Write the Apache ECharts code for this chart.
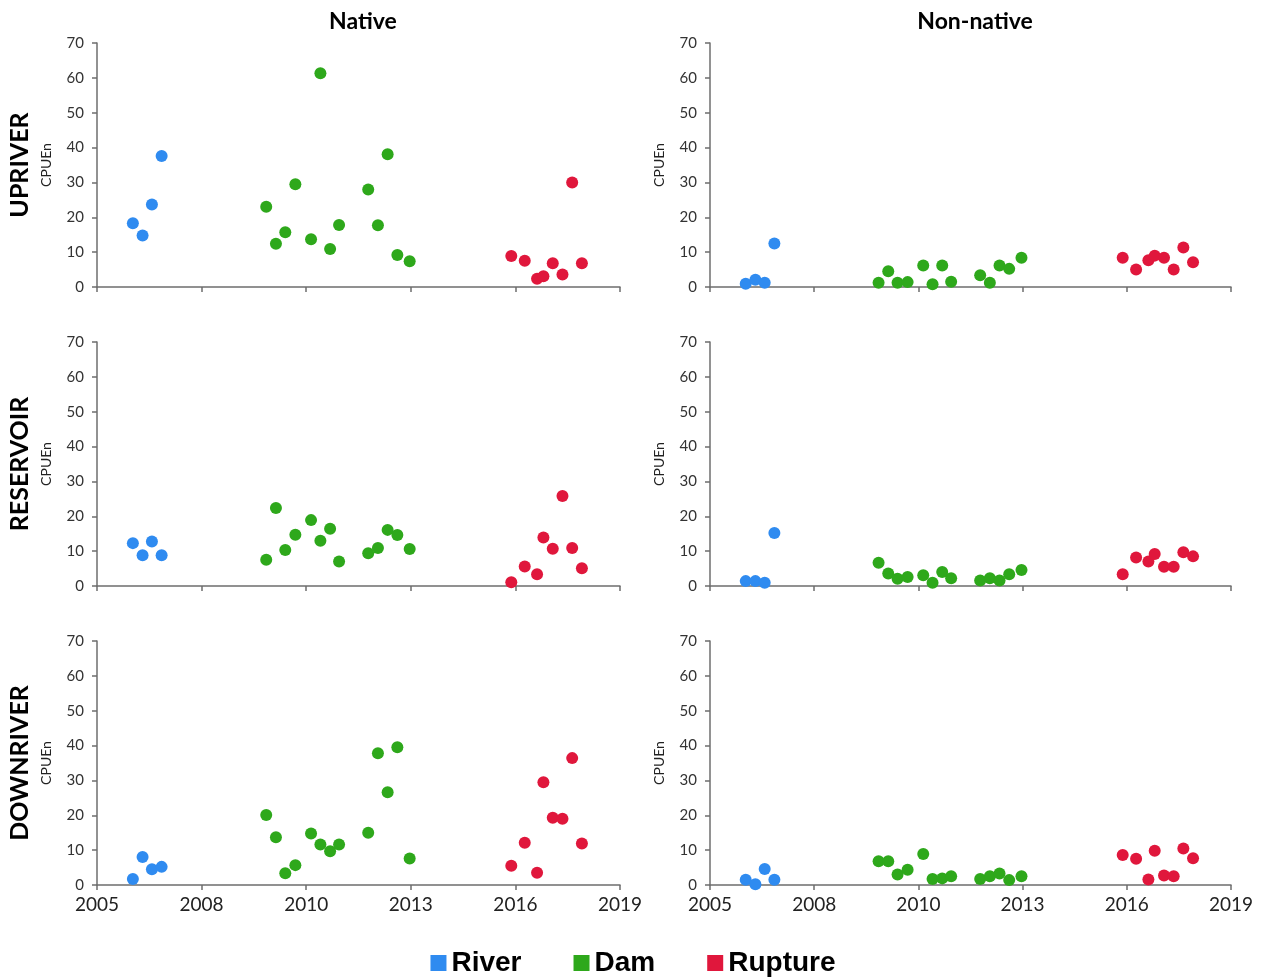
<!DOCTYPE html>
<html>
<head>
<meta charset="utf-8">
<script src="https://cdn.jsdelivr.net/npm/echarts@6/dist/echarts.min.js"></script>
<style>
html, body { margin: 0; padding: 0; background: #fff; }
#container { width: 1266px; height: 978px; }
</style>
</head>
<body>
<div id="container"></div>
<script>
var dom = document.getElementById("container");
var myChart = echarts.init(dom);

// sampling dates (decimal years), shared by all panels
var riverDates = [2005.96, 2006.22, 2006.47, 2006.73];
var damDates = [2009.53, 2009.79, 2010.04, 2010.31, 2010.73, 2010.98, 2011.24, 2011.48, 2012.26, 2012.52, 2012.78, 2013.04, 2013.37];
var ruptureDates = [2016.09, 2016.45, 2016.78, 2016.95, 2017.20, 2017.46, 2017.72, 2017.98];

// x ticks (date axis, labels as printed)
var xTickValues = [2005, 2007.8, 2010.6, 2013.4, 2016.2, 2019];
var xTickLabels = ['2005', '2008', '2010', '2013', '2016', '2019'];

var columns = ['Native', 'Non-native'];
var rows = ['UPRIVER', 'RESERVOIR', 'DOWNRIVER'];
var groups = ['River', 'Dam', 'Rupture'];

// CPUEn values
var upNativeRiver = [18.3, 14.8, 23.7, 37.6];
var upNativeDam = [23.0, 12.4, 15.7, 29.5, 13.7, 61.3, 10.9, 17.8, 28.0, 17.7, 38.1, 9.2, 7.4];
var upNativeRupture = [8.9, 7.5, 2.4, 3.1, 6.8, 3.6, 30.0, 6.8];

var upNonRiver = [0.9, 2.1, 1.2, 12.5];
var upNonDam = [1.2, 4.5, 1.2, 1.4, 6.2, 0.8, 6.2, 1.5, 3.4, 1.2, 6.2, 5.2, 8.4];
var upNonRupture = [8.4, 5.0, 7.7, 9.0, 8.4, 5.0, 11.3, 7.1];

var resNativeRiver = [12.3, 8.8, 12.8, 8.8];
var resNativeDam = [7.5, 22.4, 10.3, 14.7, 18.9, 13.0, 16.4, 7.0, 9.4, 10.9, 16.1, 14.6, 10.6];
var resNativeRupture = [1.1, 5.6, 3.4, 13.9, 10.7, 25.8, 10.9, 5.1];

var resNonRiver = [1.4, 1.4, 0.9, 15.2];
var resNonDam = [6.7, 3.6, 2.1, 2.6, 3.1, 0.9, 4.0, 2.2, 1.6, 2.2, 1.6, 3.4, 4.6];
var resNonRupture = [3.4, 8.2, 7.0, 9.2, 5.5, 5.5, 9.7, 8.5];

var downNativeRiver = [1.7, 8.0, 4.5, 5.2];
var downNativeDam = [20.1, 13.7, 3.4, 5.7, 14.8, 11.6, 9.7, 11.6, 15.0, 37.8, 26.6, 39.5, 7.6];
var downNativeRupture = [5.5, 12.1, 3.5, 29.5, 19.3, 19.0, 36.4, 11.9];

var downNonRiver = [1.5, 0.2, 4.6, 1.5];
var downNonDam = [6.8, 6.8, 3.0, 4.4, 8.9, 1.7, 1.9, 2.5, 1.7, 2.5, 3.3, 1.4, 2.5];
var downNonRupture = [8.6, 7.5, 1.6, 9.8, 2.7, 2.5, 10.5, 7.7];

var panels = [
    [[upNativeRiver, upNativeDam, upNativeRupture], [upNonRiver, upNonDam, upNonRupture]],
    [[resNativeRiver, resNativeDam, resNativeRupture], [resNonRiver, resNonDam, resNonRupture]],
    [[downNativeRiver, downNativeDam, downNativeRupture], [downNonRiver, downNonDam, downNonRupture]]
];
var dates = [riverDates, damDates, ruptureDates];
var colors = ['#2F8BF0', '#2EA81B', '#E0173C'];

var gridLeft = [97, 710];
var gridWidth = [523, 521];
var gridTop = [43, 342, 641];
var gridHeight = 244;

function pair(xs, ys) {
    var out = [];
    for (var i = 0; i < ys.length; i++) out.push([xs[i], ys[i]]);
    return out;
}

var axisCol = '#6e6e6e';
var grids = [], xAxes = [], yAxes = [], series = [], graphics = [];

for (var r = 0; r < 3; r++) {
    for (var c = 0; c < 2; c++) {
        var idx = grids.length;
        grids.push({left: gridLeft[c], width: gridWidth[c], top: gridTop[r], height: gridHeight});
        xAxes.push({
            type: 'value', gridIndex: idx, min: 2005, max: 2019,
            splitLine: {show: false},
            axisLine: {lineStyle: {color: axisCol, width: 1.5}},
            axisTick: {show: true, length: 5, customValues: xTickValues, lineStyle: {color: axisCol, width: 1.5}},
            axisLabel: {
                show: r == 2, customValues: xTickValues, margin: 10,
                fontFamily: 'Lato', fontSize: 19, color: '#222',
                formatter: function (v) {
                    var best = 0;
                    for (var k = 0; k < xTickValues.length; k++) {
                        if (Math.abs(xTickValues[k] - v) < Math.abs(xTickValues[best] - v)) best = k;
                    }
                    return xTickLabels[best];
                }
            }
        });
        yAxes.push({
            type: 'value', gridIndex: idx, min: 0, max: 70, interval: 10,
            name: 'CPUEn', nameLocation: 'middle', nameRotate: 90, nameGap: 44,
            nameTextStyle: {fontFamily: 'Lato', fontSize: 14, color: '#222'},
            splitLine: {show: false},
            axisLine: {show: true, lineStyle: {color: axisCol, width: 1.5}},
            axisTick: {show: true, length: 5, lineStyle: {color: axisCol, width: 1.5}},
            axisLabel: {fontFamily: 'Lato', fontSize: 15, color: '#333', margin: 13}
        });
        for (var g = 0; g < 3; g++) {
            series.push({
                name: groups[g], type: 'scatter', xAxisIndex: idx, yAxisIndex: idx,
                symbol: 'circle', symbolSize: 12,
                itemStyle: {color: colors[g], opacity: 1},
                data: pair(dates[g], panels[r][c][g])
            });
        }
    }
    graphics.push({
        type: 'text', x: 20, y: gridTop[r] + gridHeight / 2, rotation: Math.PI / 2,
        style: {text: rows[r], font: 'bold 25px Lato', fill: '#000', align: 'center', verticalAlign: 'middle'}
    });
}

var option = {
    animation: false,
    title: [
        {text: columns[0], left: 358, top: 5, textAlign: 'center', textStyle: {fontFamily: 'Lato', fontWeight: 'bold', fontSize: 23, color: '#000'}},
        {text: columns[1], left: 970, top: 5, textAlign: 'center', textStyle: {fontFamily: 'Lato', fontWeight: 'bold', fontSize: 23, color: '#000'}}
    ],
    legend: {
        data: groups, top: 944, left: 'center', icon: 'rect',
        itemWidth: 16, itemHeight: 16, itemGap: 52,
        textStyle: {fontFamily: 'Liberation Sans', fontWeight: 'bold', fontSize: 28, color: '#000'}
    },
    grid: grids,
    xAxis: xAxes,
    yAxis: yAxes,
    graphic: graphics,
    series: series
};
myChart.setOption(option);
</script>
</body>
</html>
